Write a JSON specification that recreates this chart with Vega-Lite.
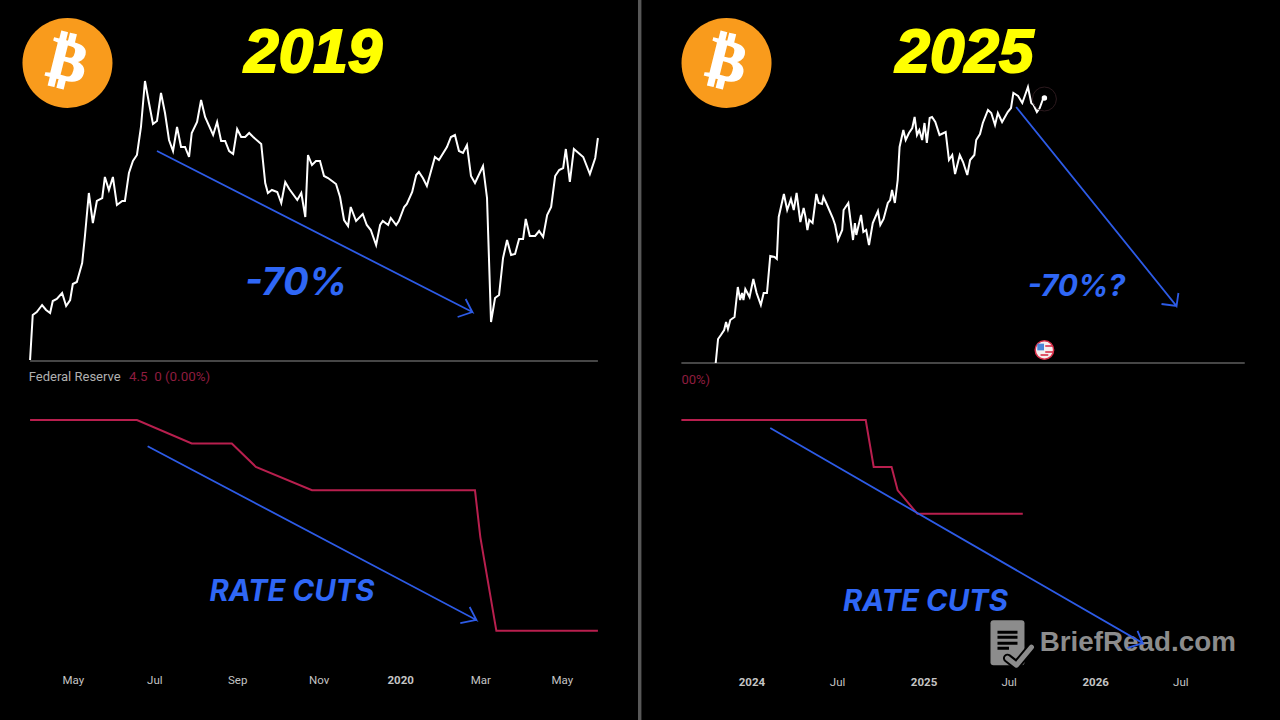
{
"$schema":"https://vega.github.io/schema/vega-lite/v6.json",
"background":"#000000",
"padding":0,
"spacing":0,
"config":{"view":{"stroke":null},"axis":{"grid":false},"concat":{"spacing":0}},
"datasets":{
"price2019":[
{"date":"2019-03-30","value":2},{"date":"2019-04-01","value":47},{"date":"2019-04-04","value":50},{"date":"2019-04-08","value":57},{"date":"2019-04-11","value":52},{"date":"2019-04-14","value":49},{"date":"2019-04-16","value":61},{"date":"2019-04-19","value":63},{"date":"2019-04-23","value":69},{"date":"2019-04-26","value":56},{"date":"2019-04-29","value":62},
{"date":"2019-05-01","value":78},{"date":"2019-05-04","value":80},{"date":"2019-05-08","value":99},{"date":"2019-05-10","value":125},{"date":"2019-05-13","value":169},{"date":"2019-05-16","value":139},{"date":"2019-05-19","value":161},{"date":"2019-05-23","value":164},{"date":"2019-05-25","value":185},{"date":"2019-05-28","value":172},{"date":"2019-05-31","value":185},
{"date":"2019-06-03","value":157},{"date":"2019-06-07","value":161},{"date":"2019-06-09","value":161},{"date":"2019-06-12","value":189},{"date":"2019-06-15","value":201},{"date":"2019-06-18","value":207},{"date":"2019-06-21","value":235},{"date":"2019-06-24","value":281},{"date":"2019-06-27","value":259},{"date":"2019-06-30","value":238},
{"date":"2019-07-03","value":241},{"date":"2019-07-06","value":269},{"date":"2019-07-09","value":249},{"date":"2019-07-12","value":222},{"date":"2019-07-15","value":211},{"date":"2019-07-18","value":235},{"date":"2019-07-21","value":215},{"date":"2019-07-24","value":215},{"date":"2019-07-27","value":205},{"date":"2019-07-29","value":229},
{"date":"2019-08-02","value":240},{"date":"2019-08-05","value":262},{"date":"2019-08-08","value":245},{"date":"2019-08-14","value":227},{"date":"2019-08-17","value":240},{"date":"2019-08-20","value":221},{"date":"2019-08-23","value":221},{"date":"2019-08-26","value":211},{"date":"2019-08-29","value":208},
{"date":"2019-09-01","value":233},{"date":"2019-09-04","value":225},{"date":"2019-09-07","value":225},{"date":"2019-09-10","value":229},{"date":"2019-09-13","value":225},{"date":"2019-09-19","value":218},{"date":"2019-09-22","value":179},{"date":"2019-09-24","value":169},{"date":"2019-09-27","value":172},
{"date":"2019-10-01","value":170},{"date":"2019-10-04","value":159},{"date":"2019-10-07","value":180},{"date":"2019-10-10","value":173},{"date":"2019-10-16","value":162},{"date":"2019-10-19","value":169},{"date":"2019-10-22","value":145},{"date":"2019-10-24","value":207},{"date":"2019-10-27","value":197},{"date":"2019-10-30","value":201},
{"date":"2019-11-02","value":201},{"date":"2019-11-05","value":186},{"date":"2019-11-08","value":184},{"date":"2019-11-11","value":181},{"date":"2019-11-14","value":178},{"date":"2019-11-17","value":165},{"date":"2019-11-20","value":142},{"date":"2019-11-23","value":136},{"date":"2019-11-25","value":155},{"date":"2019-11-29","value":141},
{"date":"2019-12-04","value":148},{"date":"2019-12-07","value":137},{"date":"2019-12-10","value":132},{"date":"2019-12-14","value":117},{"date":"2019-12-17","value":137},{"date":"2019-12-19","value":141},{"date":"2019-12-23","value":137},{"date":"2019-12-25","value":144},{"date":"2019-12-29","value":137},{"date":"2019-12-31","value":141},
{"date":"2020-01-04","value":155},{"date":"2020-01-06","value":158},{"date":"2020-01-10","value":170},{"date":"2020-01-13","value":187},{"date":"2020-01-15","value":190},{"date":"2020-01-18","value":184},{"date":"2020-01-21","value":176},{"date":"2020-01-27","value":205},{"date":"2020-01-30","value":202},
{"date":"2020-02-05","value":215},{"date":"2020-02-08","value":225},{"date":"2020-02-11","value":227},{"date":"2020-02-14","value":211},{"date":"2020-02-17","value":209},{"date":"2020-02-20","value":217},{"date":"2020-02-23","value":186},{"date":"2020-02-26","value":179},
{"date":"2020-03-03","value":196},{"date":"2020-03-06","value":164},{"date":"2020-03-09","value":40},{"date":"2020-03-12","value":64},{"date":"2020-03-15","value":67},{"date":"2020-03-18","value":104},{"date":"2020-03-21","value":122},{"date":"2020-03-24","value":107},{"date":"2020-03-27","value":108},{"date":"2020-03-30","value":123},
{"date":"2020-04-02","value":123},{"date":"2020-04-04","value":143},{"date":"2020-04-07","value":126},{"date":"2020-04-11","value":126},{"date":"2020-04-14","value":131},{"date":"2020-04-17","value":125},{"date":"2020-04-20","value":147},{"date":"2020-04-23","value":155},{"date":"2020-04-26","value":186},{"date":"2020-04-29","value":192},
{"date":"2020-05-02","value":194},{"date":"2020-05-04","value":213},{"date":"2020-05-07","value":180},{"date":"2020-05-10","value":213},{"date":"2020-05-17","value":205},{"date":"2020-05-22","value":188},{"date":"2020-05-26","value":204},{"date":"2020-05-28","value":224}
],
"rate2019":[
{"date":"2019-03-30","value":2.5},{"date":"2019-06-18","value":2.5},{"date":"2019-07-29","value":2.25},{"date":"2019-08-28","value":2.25},{"date":"2019-09-15","value":2.0},{"date":"2019-10-27","value":1.75},{"date":"2020-02-26","value":1.75},{"date":"2020-03-01","value":1.25},{"date":"2020-03-13","value":0.25},{"date":"2020-05-28","value":0.25}
],
"price2025":[
{"date":"2023-10-17","value":-1},{"date":"2023-10-22","value":23},{"date":"2023-10-28","value":27},{"date":"2023-11-04","value":32},{"date":"2023-11-08","value":40},{"date":"2023-11-12","value":33},{"date":"2023-11-17","value":42},{"date":"2023-11-26","value":45},
{"date":"2023-12-03","value":75},{"date":"2023-12-08","value":62},{"date":"2023-12-12","value":69},{"date":"2023-12-15","value":62},{"date":"2023-12-19","value":73},{"date":"2023-12-28","value":65},
{"date":"2024-01-05","value":83},{"date":"2024-01-12","value":69},{"date":"2024-01-21","value":57},{"date":"2024-01-27","value":69},{"date":"2024-02-03","value":69},{"date":"2024-02-10","value":106},{"date":"2024-02-19","value":105},{"date":"2024-02-24","value":103},{"date":"2024-02-28","value":145},
{"date":"2024-03-10","value":168},{"date":"2024-03-17","value":152},{"date":"2024-03-25","value":163},{"date":"2024-03-31","value":152},{"date":"2024-04-06","value":169},{"date":"2024-04-14","value":140},{"date":"2024-04-21","value":154},{"date":"2024-04-25","value":145},{"date":"2024-04-29","value":132},
{"date":"2024-05-03","value":142},{"date":"2024-05-10","value":139},{"date":"2024-05-18","value":168},{"date":"2024-05-23","value":159},{"date":"2024-05-30","value":158},{"date":"2024-06-02","value":165},{"date":"2024-06-08","value":159},{"date":"2024-06-22","value":144},{"date":"2024-06-27","value":137},
{"date":"2024-07-03","value":122},{"date":"2024-07-12","value":132},{"date":"2024-07-15","value":152},{"date":"2024-07-25","value":159},{"date":"2024-08-04","value":122},{"date":"2024-08-08","value":139},{"date":"2024-08-11","value":127},{"date":"2024-08-21","value":147},{"date":"2024-08-26","value":130},
{"date":"2024-09-01","value":132},{"date":"2024-09-07","value":117},{"date":"2024-09-15","value":139},{"date":"2024-09-26","value":151},{"date":"2024-10-01","value":137},{"date":"2024-10-08","value":143},{"date":"2024-10-17","value":159},{"date":"2024-10-22","value":162},{"date":"2024-10-26","value":172},
{"date":"2024-11-01","value":159},{"date":"2024-11-07","value":182},{"date":"2024-11-11","value":215},{"date":"2024-11-19","value":232},{"date":"2024-11-24","value":222},{"date":"2024-12-01","value":229},{"date":"2024-12-08","value":234},{"date":"2024-12-13","value":245},{"date":"2024-12-18","value":227},{"date":"2024-12-23","value":232},{"date":"2024-12-29","value":222},
{"date":"2025-01-03","value":239},{"date":"2025-01-08","value":219},{"date":"2025-01-14","value":244},{"date":"2025-01-19","value":245},{"date":"2025-01-26","value":240},{"date":"2025-02-04","value":227},{"date":"2025-02-17","value":230},{"date":"2025-02-24","value":202},
{"date":"2025-03-03","value":207},{"date":"2025-03-09","value":188},{"date":"2025-03-19","value":207},{"date":"2025-03-26","value":200},{"date":"2025-04-04","value":187},{"date":"2025-04-10","value":202},{"date":"2025-04-19","value":207},{"date":"2025-04-23","value":222},
{"date":"2025-05-01","value":228},{"date":"2025-05-07","value":239},{"date":"2025-05-18","value":252},{"date":"2025-05-25","value":249},{"date":"2025-06-02","value":237},{"date":"2025-06-08","value":249},{"date":"2025-06-17","value":240},{"date":"2025-06-29","value":250},
{"date":"2025-07-06","value":254},{"date":"2025-07-11","value":269},{"date":"2025-07-21","value":266},{"date":"2025-07-30","value":259},{"date":"2025-08-11","value":275},{"date":"2025-08-18","value":259},{"date":"2025-08-23","value":257},{"date":"2025-08-30","value":250},{"date":"2025-09-05","value":254},{"date":"2025-09-12","value":263},{"date":"2025-09-19","value":264}
],
"rate2025":[
{"date":"2023-08-05","value":5.5},{"date":"2024-08-31","value":5.5},{"date":"2024-09-17","value":5.0},{"date":"2024-10-25","value":5.0},{"date":"2024-11-07","value":4.75},{"date":"2024-12-19","value":4.5},{"date":"2025-07-31","value":4.5}
]
},
"hconcat":[
{"spacing":0,"bounds":"flush","vconcat":[
{"width":640,"height":362,
"encoding":{
"x":{"field":"date","type":"temporal","axis":null,"scale":{"domain":[{"year":2019,"month":3,"date":7,"hours":12},{"year":2020,"month":6,"date":28,"hours":12}]}},
"y":{"field":"value","type":"quantitative","axis":null,"scale":{"domain":[0,362],"nice":false,"zero":false}}
},
"layer":[
{"data":{"values":[{"date":"2020-06-27T00:00:00","date2":"2020-06-28T12:00:00","value":0,"value2":362}]},"mark":{"type":"rect","color":"#585858"},"encoding":{"x2":{"field":"date2"},"y2":{"field":"value2"}}},
{"data":{"values":[{"date":"2019-03-30","value":1},{"date":"2020-05-28","value":1}]},"mark":{"type":"line","color":"#5e5e5e","strokeWidth":1.5}},
{"data":{"name":"price2019"},"mark":{"type":"line","color":"#ffffff","strokeWidth":2}},
{"data":{"values":[{"date":"2019-07-03","value":211,"step":1},{"date":"2020-02-24","value":50,"step":2},{"date":"2020-02-19","value":63,"step":3},{"date":"2020-02-24","value":50,"step":4},{"date":"2020-02-13","value":45,"step":5}]},"mark":{"type":"line","color":"#2d5be6","strokeWidth":1.8},"encoding":{"order":{"field":"step"}}},
{"data":{"values":[{"date":"2019-04-27","value":299}]},"mark":{"type":"point","shape":"circle","filled":true,"opacity":1,"color":"#f99b1c","size":8100}},
{"data":{"values":[{"date":"2019-04-27","value":299,"label":"₿"}]},"mark":{"type":"text","font":"DejaVu Sans","fontWeight":"bold","fontSize":58,"angle":14,"color":"#ffffff","stroke":"#ffffff","strokeWidth":1.5,"baseline":"middle","align":"center"},"encoding":{"text":{"field":"label"}}},
{"data":{"values":[{"date":"2019-10-28","value":309,"label":"2019"}]},"mark":{"type":"text","font":"Liberation Sans","fontWeight":"bold","fontStyle":"italic","fontSize":62,"color":"#ffff00","stroke":"#ffff00","strokeWidth":2,"baseline":"middle","align":"center"},"encoding":{"text":{"field":"label"}}},
{"data":{"values":[{"date":"2019-10-15","value":78,"label":"-70%"}]},"mark":{"type":"text","font":"Inter","fontWeight":"bold","fontStyle":"italic","fontSize":38,"color":"#2f67f6","baseline":"middle","align":"center"},"encoding":{"text":{"field":"label"}}}
]},
{"width":640,"height":358,
"encoding":{
"x":{"field":"date","type":"temporal","scale":{"domain":[{"year":2019,"month":3,"date":7,"hours":12},{"year":2020,"month":6,"date":28,"hours":12}]},
"axis":{"title":null,"orient":"bottom","offset":-50,"domain":false,"ticks":false,"labelPadding":4,"labelFont":"Roboto","labelFontSize":11.5,"labelColor":"#c4c4c4","labelFlush":false,"labelOverlap":false,
"values":[{"year":2019,"month":5,"date":1},{"year":2019,"month":7,"date":1},{"year":2019,"month":9,"date":1},{"year":2019,"month":11,"date":1},{"year":2020,"month":1,"date":1},{"year":2020,"month":3,"date":1},{"year":2020,"month":5,"date":1}],
"labelExpr":"month(datum.value)==0?timeFormat(datum.value,'%Y'):timeFormat(datum.value,'%b')",
"labelFontWeight":{"condition":{"test":"month(datum.value)==0","value":"bold"},"value":"normal"}}},
"y":{"field":"value","type":"quantitative","axis":null,"scale":{"domain":[-0.702,3.119],"nice":false,"zero":false}}
},
"layer":[
{"data":{"values":[{"date":"2020-06-27T00:00:00","date2":"2020-06-28T12:00:00","value":-0.702,"value2":3.119}]},"mark":{"type":"rect","color":"#585858"},"encoding":{"x2":{"field":"date2"},"y2":{"field":"value2"}}},
{"data":{"name":"rate2019"},"mark":{"type":"line","color":"#b81f4e","strokeWidth":2}},
{"data":{"values":[{"date":"2019-06-26","value":2.22,"step":1},{"date":"2020-02-27","value":0.366,"step":2},{"date":"2020-02-22","value":0.504,"step":3},{"date":"2020-02-27","value":0.366,"step":4},{"date":"2020-02-15","value":0.333,"step":5}]},"mark":{"type":"line","color":"#2d5be6","strokeWidth":1.8},"encoding":{"order":{"field":"step"}}},
{"data":{"values":[{"date":"2019-03-29","value":2.96,"label":"Federal Reserve"}]},"mark":{"type":"text","font":"Roboto","fontSize":13,"color":"#b0b0b0","baseline":"middle","align":"left"},"encoding":{"text":{"field":"label"}}},
{"data":{"values":[{"date":"2019-06-12","value":2.96,"label":"4.5\u00a0\u00a00 (0.00%)"}]},"mark":{"type":"text","font":"Roboto","fontSize":13.4,"color":"#8e1d3f","baseline":"middle","align":"left"},"encoding":{"text":{"field":"label"}}},
{"data":{"values":[{"date":"2019-10-12","value":0.665,"label":"RATE CUTS"}]},"mark":{"type":"text","font":"Inter","fontWeight":"bold","fontStyle":"italic","fontSize":29.3,"color":"#2f67f6","baseline":"middle","align":"center"},"encoding":{"text":{"field":"label"}}}
]}
]},
{"spacing":0,"bounds":"flush","vconcat":[
{"width":640,"height":362,
"encoding":{
"x":{"field":"date","type":"temporal","axis":null,"scale":{"domain":[{"year":2023,"month":5,"date":9},{"year":2027,"month":1,"date":29}]}},
"y":{"field":"value","type":"quantitative","axis":null,"scale":{"domain":[0,362],"nice":false,"zero":false}}
},
"layer":[
{"data":{"values":[{"date":"2023-05-09","date2":"2023-05-12","value":0,"value2":362}]},"mark":{"type":"rect","color":"#585858"},"encoding":{"x2":{"field":"date2"},"y2":{"field":"value2"}}},
{"data":{"values":[{"date":"2023-08-05","value":-1},{"date":"2026-11-15","value":-1}]},"mark":{"type":"line","color":"#5e5e5e","strokeWidth":1.5,"clip":false}},
{"data":{"name":"price2025"},"mark":{"type":"line","color":"#ffffff","strokeWidth":2}},
{"data":{"values":[{"date":"2025-09-15","value":263}]},"mark":{"type":"point","shape":"circle","filled":false,"opacity":1,"color":"#2c1a1e","strokeWidth":1,"size":576}},
{"data":{"values":[{"date":"2025-09-15","value":264}]},"mark":{"type":"point","shape":"circle","filled":true,"opacity":1,"color":"#ffffff","size":30}},
{"data":{"values":[{"date":"2025-07-17","value":255,"step":1},{"date":"2026-06-23","value":56,"step":2},{"date":"2026-06-27","value":69,"step":3},{"date":"2026-06-23","value":56,"step":4},{"date":"2026-05-22","value":58,"step":5}]},"mark":{"type":"line","color":"#2d5be6","strokeWidth":1.8},"encoding":{"order":{"field":"step"}}},
{"data":{"values":[{"date":"2023-11-09","value":299}]},"mark":{"type":"point","shape":"circle","filled":true,"opacity":1,"color":"#f99b1c","size":8100}},
{"data":{"values":[{"date":"2023-11-09","value":299,"label":"₿"}]},"mark":{"type":"text","font":"DejaVu Sans","fontWeight":"bold","fontSize":58,"angle":14,"color":"#ffffff","stroke":"#ffffff","strokeWidth":1.5,"baseline":"middle","align":"center"},"encoding":{"text":{"field":"label"}}},
{"data":{"values":[{"date":"2025-03-29","value":309,"label":"2025"}]},"mark":{"type":"text","font":"Liberation Sans","fontWeight":"bold","fontStyle":"italic","fontSize":62,"color":"#ffff00","stroke":"#ffff00","strokeWidth":2,"baseline":"middle","align":"center"},"encoding":{"text":{"field":"label"}}},
{"data":{"values":[{"date":"2025-11-22","value":75,"label":"-70%?"}]},"mark":{"type":"text","font":"Inter","fontWeight":"bold","fontStyle":"italic","fontSize":30,"color":"#2f67f6","baseline":"middle","align":"center"},"encoding":{"text":{"field":"label"}}},
{"data":{"values":[{"date":"2025-09-15","value":12}]},"mark":{"type":"point","shape":"circle","filled":true,"opacity":1,"fill":"#f4f0f0","stroke":"#d9304a","strokeWidth":1.5,"size":340}},
{"data":{"values":[{"date":"2025-09-07","value":15}]},"mark":{"type":"point","shape":"square","filled":true,"opacity":1,"color":"#4a86d8","size":45}},
{"data":{"values":[{"date":"2025-09-25","value":16},{"date":"2025-09-25","value":10},{"date":"2025-09-15","value":7}]},"mark":{"type":"point","shape":"M-1 0H1","filled":false,"opacity":1,"color":"#d9304a","strokeWidth":1.6,"size":60}}
]},
{"width":640,"height":358,
"encoding":{
"x":{"field":"date","type":"temporal","scale":{"domain":[{"year":2023,"month":5,"date":9},{"year":2027,"month":1,"date":29}]},
"axis":{"title":null,"orient":"bottom","offset":-48,"domain":false,"ticks":false,"labelPadding":4,"labelFont":"Roboto","labelFontSize":11.5,"labelColor":"#c4c4c4","labelFlush":false,"labelOverlap":false,
"values":[{"year":2024,"month":1,"date":1},{"year":2024,"month":7,"date":1},{"year":2025,"month":1,"date":1},{"year":2025,"month":7,"date":1},{"year":2026,"month":1,"date":1},{"year":2026,"month":7,"date":1}],
"labelExpr":"month(datum.value)==0?timeFormat(datum.value,'%Y'):timeFormat(datum.value,'%b')",
"labelFontWeight":{"condition":{"test":"month(datum.value)==0","value":"bold"},"value":"normal"}}},
"y":{"field":"value","type":"quantitative","axis":null,"scale":{"domain":[2.3,6.12],"nice":false,"zero":false}}
},
"layer":[
{"data":{"values":[{"date":"2023-05-09","date2":"2023-05-12","value":2.3,"value2":6.12}]},"mark":{"type":"rect","color":"#585858"},"encoding":{"x2":{"field":"date2"},"y2":{"field":"value2"}}},
{"data":{"name":"rate2025"},"mark":{"type":"line","color":"#b81f4e","strokeWidth":2}},
{"data":{"values":[{"date":"2023-08-05","value":5.93,"label":"00%)"}]},"mark":{"type":"text","font":"Roboto","fontSize":13,"color":"#8e1d3f","baseline":"middle","align":"left"},"encoding":{"text":{"field":"label"}}},
{"data":{"values":[{"date":"2025-01-05","value":3.56,"label":"RATE CUTS"}]},"mark":{"type":"text","font":"Inter","fontWeight":"bold","fontStyle":"italic","fontSize":29.3,"color":"#2f67f6","baseline":"middle","align":"center"},"encoding":{"text":{"field":"label"}}},
{"data":{"values":[{"date":"2025-07-07","value":3.12}]},"mark":{"type":"point","filled":true,"opacity":1,"color":"#8c8c8c","size":2500,"shape":"M-0.72 -0.92H0.4Q0.52 -0.92 0.52 -0.8V0.76Q0.52 0.88 0.4 0.88H-0.72Q-0.84 0.88 -0.84 0.76V-0.8Q-0.84 -0.92 -0.72 -0.92Z"}},
{"data":{"values":[{"date":"2025-07-07","value":3.12}]},"mark":{"type":"point","filled":true,"opacity":1,"color":"#000000","size":2500,"shape":"M-0.56 -0.5H0.24V-0.38H-0.56ZM-0.56 -0.3H0.24V-0.18H-0.56ZM-0.56 -0.06H0.24V0.06H-0.56ZM-0.56 0.14H-0.1V0.26H-0.56Z"}},
{"data":{"values":[{"date":"2025-07-07","value":3.12}]},"mark":{"type":"point","filled":false,"opacity":1,"color":"#000000","strokeWidth":9,"strokeCap":"round","strokeJoin":"round","size":2500,"shape":"M-0.16 0.6L0.2 0.88L0.8 0.16"}},
{"data":{"values":[{"date":"2025-07-07","value":3.12}]},"mark":{"type":"point","filled":false,"opacity":1,"color":"#8c8c8c","strokeWidth":5,"strokeCap":"round","strokeJoin":"round","size":2500,"shape":"M-0.16 0.6L0.2 0.88L0.8 0.16"}},
{"data":{"values":[{"date":"2025-09-05","value":3.12,"label":"BriefRead.com"}]},"mark":{"type":"text","font":"Liberation Sans","fontWeight":"bold","fontSize":27.8,"color":"#8c8c8c","baseline":"middle","align":"left"},"encoding":{"text":{"field":"label"}}},
{"data":{"values":[{"date":"2024-02-10","value":5.415,"step":1},{"date":"2026-04-12","value":3.12,"step":2},{"date":"2026-04-01","value":3.25,"step":3},{"date":"2026-04-12","value":3.12,"step":4},{"date":"2026-03-11","value":3.07,"step":5}]},"mark":{"type":"line","color":"#2d5be6","strokeWidth":1.8},"encoding":{"order":{"field":"step"}}}
]}
]}
]
}
